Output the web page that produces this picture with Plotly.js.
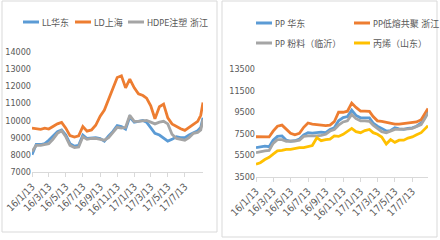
<!DOCTYPE html>
<html>
<head>
<meta charset="utf-8">
<script src="https://cdn.plot.ly/plotly-3.0.1.min.js"></script>
<style>html,body{margin:0;padding:0;background:#fff;}#chart{width:440px;height:240px;}</style>
</head>
<body>
<div id="chart"></div>
<script>
// ---------- data ----------
const datesLeft = ["2016-01-13","2016-01-28","2016-02-13","2016-02-28","2016-03-13","2016-03-28","2016-04-13","2016-04-28","2016-05-13","2016-05-28","2016-06-13","2016-06-28","2016-07-13","2016-07-28","2016-08-13","2016-08-28","2016-09-13","2016-09-28","2016-10-13","2016-10-28","2016-11-13","2016-11-28","2016-12-13","2016-12-28","2017-01-13","2017-01-28","2017-02-13","2017-02-26","2017-03-13","2017-03-28","2017-04-13","2017-04-28","2017-05-13","2017-05-28","2017-06-13","2017-06-28","2017-07-13","2017-07-28","2017-08-13","2017-08-28","2017-09-08","2017-09-16"];
const llHuadong = [8000,8600,8600,8650,8850,9100,9350,9450,9150,8650,8500,8550,9150,8950,8980,9000,8950,8800,9100,9350,9700,9650,9500,10200,9900,9950,10000,9900,9600,9250,9150,9000,8800,8900,9050,9000,9000,9150,9300,9400,9600,10150];
const ldShanghai = [9550,9500,9480,9550,9500,9650,9800,9880,9550,9120,9030,9100,9650,9380,9450,9720,10250,10600,11200,11800,12500,12600,11900,12400,11900,11550,11450,11300,10850,10100,10800,10950,10150,9800,9650,9520,9420,9580,9800,9950,10300,11050];
const hdpeZhejiang = [8200,8550,8550,8600,8650,8900,9250,9400,9050,8550,8420,8450,9050,8900,8950,8950,8900,8850,9000,9300,9600,9550,9600,10300,9950,9950,10000,10000,9900,9800,9900,9950,9800,9200,8950,8900,8850,9000,9250,9300,9450,10050];

const datesRight = ["2016-01-13","2016-01-28","2016-02-13","2016-02-28","2016-03-13","2016-03-28","2016-04-13","2016-04-28","2016-05-13","2016-05-28","2016-06-13","2016-06-28","2016-07-13","2016-07-28","2016-08-13","2016-08-28","2016-09-13","2016-09-28","2016-10-13","2016-10-28","2016-11-13","2016-11-28","2016-12-13","2016-12-28","2017-01-13","2017-01-28","2017-02-13","2017-02-26","2017-03-13","2017-03-28","2017-04-13","2017-04-28","2017-05-13","2017-05-28","2017-06-13","2017-06-28","2017-07-13","2017-07-28","2017-08-13","2017-08-28","2017-09-06"];
const ppHuadong = [6200,6300,6350,6300,6900,7250,7300,6900,6800,6850,7000,7400,7600,7550,7600,7650,7600,7900,8050,8700,9000,9100,9700,9200,8980,9000,8970,8500,8200,8000,7750,7800,8050,7950,7900,8000,8050,8200,8500,9100,9600];
const ppDirong = [7220,7200,7150,7200,7740,8200,8300,7900,7550,7400,7550,8100,8500,8400,8360,8300,8250,8300,8620,9500,9500,9600,10350,9950,9600,9600,9580,9100,8700,8650,8550,8500,8400,8400,8450,8500,8550,8600,8800,9500,9850];
const ppFenliao = [5740,5850,5900,5950,6600,6950,6950,6800,6800,6820,6900,7250,7300,7280,7300,7350,7450,7750,7900,8300,8600,8700,9300,8900,8700,8700,8650,8300,8000,7700,7600,7750,7900,7900,7900,7950,8000,8150,8350,9000,9450];
const bingxi = [4660,4800,5100,5300,5600,5900,5950,6050,6050,6150,6200,6200,6300,6400,7130,6850,6950,7000,7300,7250,7450,7700,8000,7700,7600,7800,7900,7600,7450,7200,6550,6950,6700,6900,6900,7100,7200,7400,7600,8000,8250];

const tickDates = ["2016-01-13","2016-03-13","2016-05-13","2016-07-13","2016-09-13","2016-11-13","2017-01-13","2017-03-13","2017-05-13","2017-07-13"];
const leftYTicks = [7000,8000,9000,10000,11000,12000,13000,14000];
const rightYTicks = [3500,5500,7500,9500,11500,13500];

const namesLeft = ["LL华东","LD上海","HDPE注塑 浙江"];
const namesRight = ["PP 华东","PP低熔共聚 浙江","PP 粉料（临沂）","丙烯（山东）"];

// ---------- styling ----------
const C = {blue:"#5B9BD5", orange:"#ED7D31", gray:"#A5A5A5", yellow:"#FFC000"};
const W = 440, H = 240;
const FONT = "'Liberation Sans Narrow','DejaVu Sans Condensed','Noto Sans CJK SC',sans-serif";
const TXT = "#595959";
const px = x => x / W;
const py = y => 1 - y / H;

function line(x, y, color, xa, ya, name) {
  return {x, y, name, type: "scatter", mode: "lines", xaxis: xa, yaxis: ya,
    line: {color, width: 2.8}, showlegend: false, hoverinfo: "skip"};
}

const traces = [
  line(datesLeft, llHuadong, C.blue, "x", "y", namesLeft[0]),
  line(datesLeft, ldShanghai, C.orange, "x", "y", namesLeft[1]),
  line(datesLeft, hdpeZhejiang, C.gray, "x", "y", namesLeft[2]),
  line(datesRight, ppHuadong, C.blue, "x2", "y2", namesRight[0]),
  line(datesRight, ppDirong, C.orange, "x2", "y2", namesRight[1]),
  line(datesRight, ppFenliao, C.gray, "x2", "y2", namesRight[2]),
  line(datesRight, bingxi, C.yellow, "x2", "y2", namesRight[3])
];

const xCommon = {
  type: "date", tickvals: tickDates, tickformat: "%y/%-m/%-d", tickangle: -45,
  showgrid: false, zeroline: false, showline: true, linecolor: "#D9D9D9", linewidth: 1,
  ticks: "outside", ticklen: 4, tickcolor: "#D9D9D9",
  tickfont: {family: FONT, size: 10, color: TXT}, fixedrange: true
};
const yCommon = {
  showgrid: false, zeroline: false, showline: false, ticks: "",
  tickformat: "d",
  tickfont: {family: FONT, size: 9, color: TXT}, fixedrange: true
};

// legend items drawn as sample lines + text
const legendItems = [
  {name: namesLeft[0], color: C.blue, x: 23, y: 22},
  {name: namesLeft[1], color: C.orange, x: 75, y: 22},
  {name: namesLeft[2], color: C.gray, x: 128, y: 22},
  {name: namesRight[0], color: C.blue, x: 256, y: 23},
  {name: namesRight[1], color: C.orange, x: 354, y: 23},
  {name: namesRight[2], color: C.gray, x: 256, y: 43},
  {name: namesRight[3], color: C.yellow, x: 354, y: 43}
];

const shapes = [
  {type: "rect", xref: "paper", yref: "paper", x0: px(2), x1: px(217), y0: py(232), y1: py(1),
   line: {color: "#D9D9D9", width: 1}},
  {type: "rect", xref: "paper", yref: "paper", x0: px(222), x1: px(437), y0: py(237), y1: py(1),
   line: {color: "#D9D9D9", width: 1}}
];
const annotations = [];
legendItems.forEach(it => {
  shapes.push({type: "line", xref: "paper", yref: "paper", x0: px(it.x), x1: px(it.x + 16),
    y0: py(it.y), y1: py(it.y), line: {color: it.color, width: 3}});
  annotations.push({xref: "paper", yref: "paper", x: px(it.x + 17), y: py(it.y), text: it.name,
    showarrow: false, xanchor: "left", yanchor: "middle",
    font: {family: FONT, size: 9, color: TXT}});
});

const layout = {
  width: W, height: H, margin: {l: 0, r: 0, t: 0, b: 0},
  paper_bgcolor: "#ffffff", plot_bgcolor: "rgba(0,0,0,0)", showlegend: false,
  xaxis: Object.assign({}, xCommon, {domain: [px(32), px(203)], anchor: "y", range: ["2016-01-13", "2017-09-16"]}),
  yaxis: Object.assign({}, yCommon, {domain: [py(172), py(51.7)], anchor: "x", range: [7000, 14000], tickvals: leftYTicks}),
  xaxis2: Object.assign({}, xCommon, {domain: [px(256), px(428)], anchor: "y2", range: ["2016-01-13", "2017-09-06"]}),
  yaxis2: Object.assign({}, yCommon, {domain: [py(176.7), py(69.3)], anchor: "x2", range: [3500, 13500], tickvals: rightYTicks}),
  shapes, annotations
};

Plotly.newPlot("chart", traces, layout, {displayModeBar: false, staticPlot: true});
</script>
</body>
</html>
